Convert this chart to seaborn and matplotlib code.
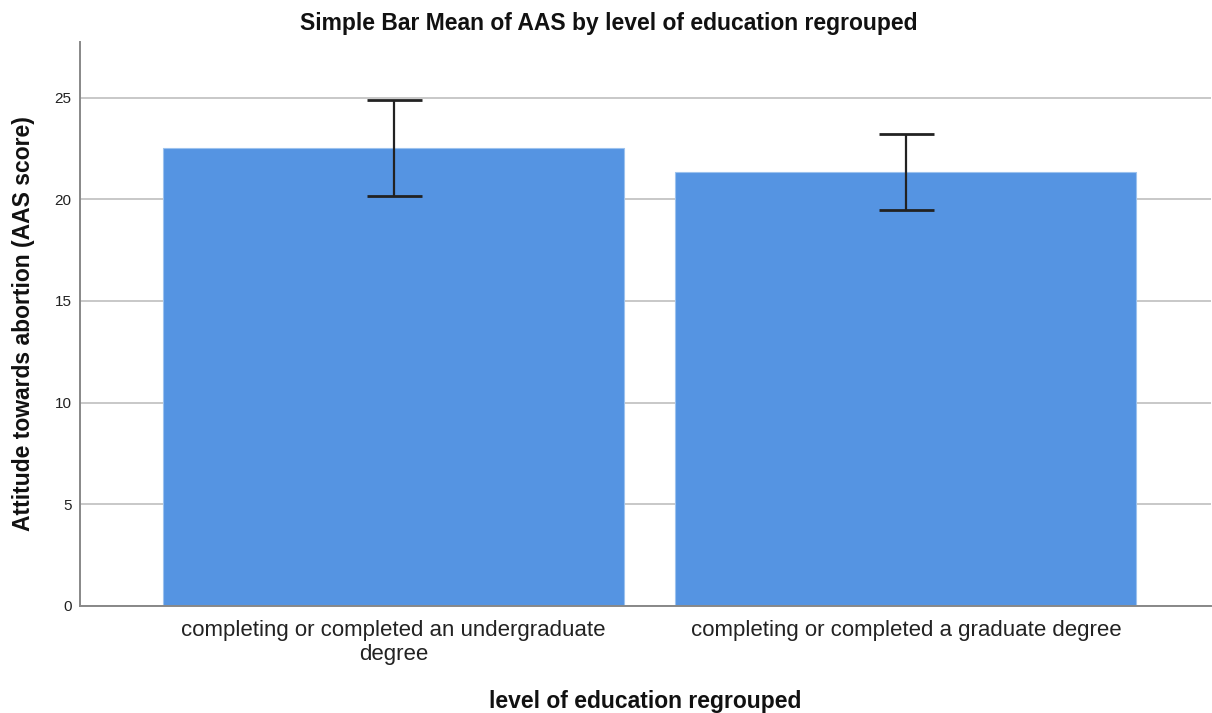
import matplotlib
matplotlib.use("Agg")
import matplotlib.pyplot as plt
import seaborn as sns
import pandas as pd

# Mean AAS score with 95% confidence interval per education group
categories = [
    "completing or completed an undergraduate\ndegree",
    "completing or completed a graduate degree",
]
means = [22.51, 21.36]
ci_lower = [20.17, 19.46]
ci_upper = [24.87, 23.23]
y_ticks = [0, 5, 10, 15, 20, 25]

df = pd.DataFrame({"education": categories, "aas": means})

sns.set_theme(style="white")
plt.rcParams["font.family"] = ["Liberation Sans", "DejaVu Sans"]

fig = plt.figure(figsize=(12.12, 7.13), dpi=100)
ax = fig.add_axes([0.066, 0.1505, 0.933, 0.791])

sns.barplot(data=df, x="education", y="aas", color="#5594E2", saturation=1,
            width=0.9, edgecolor="#9cc2ee", linewidth=0.8, errorbar=None,
            ax=ax, zorder=2)

xs = list(range(len(categories)))
yerr = [[m - lo for m, lo in zip(means, ci_lower)],
        [hi - m for m, hi in zip(means, ci_upper)]]
ax.errorbar(xs, means, yerr=yerr, fmt="none", ecolor="#222222",
            elinewidth=1.6, capsize=19.8, capthick=2.0, zorder=3)

ax.set_ylim(0, 27.76)
ax.set_xlim(-0.612, 1.595)
ax.set_yticks(y_ticks)
ax.yaxis.grid(True, color="#c8c8c8", linewidth=1.4, zorder=0)
ax.set_axisbelow(True)

for side in ("top", "right"):
    ax.spines[side].set_visible(False)
for side in ("left", "bottom"):
    ax.spines[side].set_color("#888888")
    ax.spines[side].set_linewidth(1.4)

ax.tick_params(axis="y", length=0, labelsize=11, labelcolor="#222222", pad=6)
ax.tick_params(axis="x", length=0, labelsize=16, labelcolor="#222222", pad=10)
for lbl in ax.get_xticklabels():
    lbl.set_linespacing(1.2)

ax.set_xlabel("level of education regrouped", fontsize=16.5, fontweight="bold",
              color="#111111", labelpad=18)
ax.set_ylabel("Attitude towards abortion (AAS score)", fontsize=16.5,
              fontweight="bold", color="#111111", labelpad=14)
fig.suptitle("Simple Bar Mean of AAS by level of education regrouped",
             fontsize=16.5, fontweight="bold", color="#111111",
             x=0.502, y=0.983, va="top")

fig.savefig("out.png", dpi=100, facecolor="white")
